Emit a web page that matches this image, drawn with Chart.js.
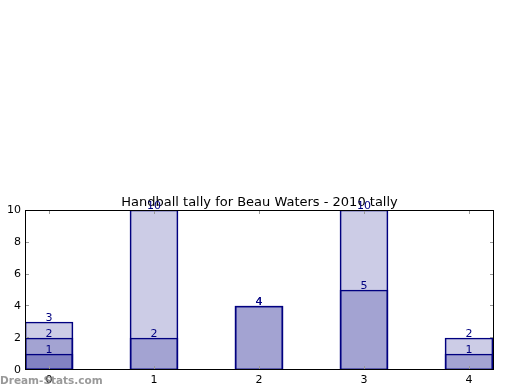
<!DOCTYPE html>
<html><head><meta charset="utf-8">
<script src="https://cdn.jsdelivr.net/npm/chart.js@4/dist/chart.umd.min.js"></script>
<style>html,body{margin:0;padding:0;background:#fff}#w{width:520px;height:390px}</style>
</head><body><div id="w"><canvas id="c" width="520" height="390"></canvas></div>
<script>
const categories = ['0', '1', '2', '3', '4'];
const seriesA = [3, 10, 4, 10, 2];
const seriesB = [2, 2, 4, 5, 1];
const seriesC = [1, null, null, null, null];
const yTicks = [0, 2, 4, 6, 8, 10];
const titleText = 'Handball tally for Beau Waters - 2010 tally';

const FONT = 'DejaVu Sans';
function toPts(arr) { return arr.map((v, i) => ({x: i, y: v})).filter(p => p.y !== null); }
function ds(arr) {
  return { data: toPts(arr), backgroundColor: 'rgba(0,0,128,0.2)', borderColor: '#000080',
    borderWidth: 1, barThickness: 48, grouped: false, borderSkipped: false };
}
const deco = {
  id: 'deco',
  beforeDraw(chart) {
    const ctx = chart.ctx; ctx.save(); ctx.fillStyle = '#fff'; ctx.fillRect(0, 0, chart.width, chart.height); ctx.restore();
  },
  afterDatasetsDraw(chart) {
    const ctx = chart.ctx, a = chart.chartArea, xs = chart.scales.x, ys = chart.scales.y;
    ctx.save();
    // title
    ctx.font = '13px "' + FONT + '"'; ctx.fillStyle = '#000'; ctx.textAlign = 'center'; ctx.textBaseline = 'alphabetic';
    ctx.fillText(titleText, (a.left + a.right) / 2, 206);
    // value labels
    ctx.font = '11px "' + FONT + '"'; ctx.fillStyle = '#000080'; ctx.textAlign = 'center'; ctx.textBaseline = 'bottom';
    chart.data.datasets.forEach((d, di) => {
      chart.getDatasetMeta(di).data.forEach((el, i) => {
        ctx.fillText(String(d.data[i].y), el.x, el.y + 2);
      });
    });
    // ticks
    ctx.strokeStyle = '#999'; ctx.lineWidth = 1;
    ctx.beginPath();
    yTicks.forEach(v => {
      const py = ys.getPixelForValue(v);
      const frac = (a.bottom - py) / (a.bottom - a.top);
      const y = Math.round(a.bottom - 1 - frac * (a.bottom - 1 - a.top)) + 0.5;
      ctx.moveTo(a.left, y); ctx.lineTo(a.left + 4, y); ctx.moveTo(a.right, y); ctx.lineTo(a.right - 4, y); });
    categories.forEach((c, i) => { const x = Math.round(xs.getPixelForValue(i)) + 0.5;
      ctx.moveTo(x, a.bottom); ctx.lineTo(x, a.bottom - 4); ctx.moveTo(x, a.top); ctx.lineTo(x, a.top + 4); });
    ctx.stroke();
    // frame
    ctx.strokeStyle = '#000'; ctx.lineWidth = 1;
    ctx.strokeRect(Math.round(a.left) + 0.5, Math.round(a.top) + 0.5, Math.round(a.right - a.left) - 1, Math.round(a.bottom - a.top) - 1);
    // watermark
    ctx.font = 'bold 10.5px "' + FONT + '"'; ctx.fillStyle = 'rgba(128,128,128,0.8)'; ctx.textAlign = 'left'; ctx.textBaseline = 'alphabetic';
    ctx.fillText('Dream-Stats.com', 0, 384);
    ctx.restore();
  }
};
new Chart(document.getElementById('c'), {
  type: 'bar',
  data: { datasets: [ds(seriesA), ds(seriesB), ds(seriesC)] },
  options: {
    responsive: false, animation: false, devicePixelRatio: 1,
    layout: { padding: { top: 210, right: 26, left: 0, bottom: 0 } },
    plugins: { legend: { display: false }, tooltip: { enabled: false }, title: { display: false } },
    scales: {
      x: { type: 'linear', min: -24 / 105, max: 445 / 105, offset: false,
        grid: { display: false, drawTicks: false }, border: { display: false },
        ticks: { stepSize: 1, includeBounds: false, padding: 4, color: '#000', font: { family: FONT, size: 11 },
          callback: v => categories[v] !== undefined ? categories[v] : '' },
        afterFit: s => { s.height = 20; } },
      y: { min: 0, max: 10,
        grid: { display: false, drawTicks: false }, border: { display: false },
        ticks: { stepSize: 2, padding: 4, color: '#000', font: { family: FONT, size: 11 } },
        afterFit: s => { s.width = 25; } }
    }
  },
  plugins: [deco]
});
</script></body></html>
